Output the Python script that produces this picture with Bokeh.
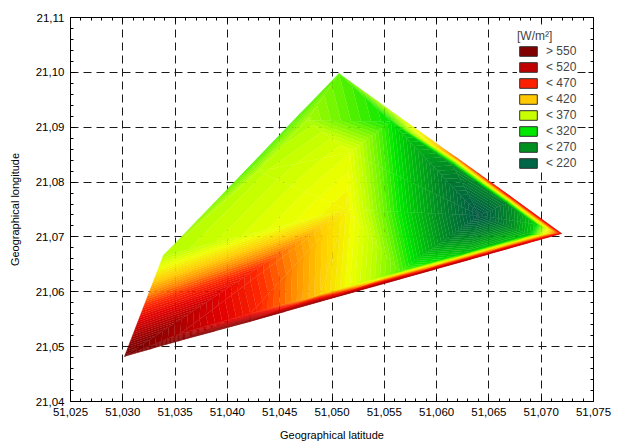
import numpy as np
from bokeh.plotting import figure
from bokeh.models import FixedTicker, LinearAxis, Legend, LegendItem, ColumnDataSource
from bokeh.embed import file_html
from bokeh.resources import INLINE

# ---- measurement points (latitude, longitude, irradiance W/m2) ----
lat = [51.03015, 51.03387, 51.05067, 51.07195, 51.03550, 51.04218, 51.04886, 51.05649,
       51.06317, 51.06889, 51.03550, 51.04218, 51.04886, 51.05649, 51.06317, 51.06889,
       51.05134, 51.05172, 51.06412, 51.05611, 51.06202, 51.06708, 51.05563, 51.06155,
       51.06660, 51.06956, 51.04227, 51.04695, 51.04294, 51.04761]
lon = [21.04821, 21.06662, 21.09979, 21.07063, 21.05112, 21.05459, 21.05823, 21.06231,
       21.06589, 21.06899, 21.05240, 21.05604, 21.05951, 21.06370, 21.06735, 21.07044,
       21.07500, 21.08539, 21.07391, 21.09232, 21.08430, 21.07737, 21.09104, 21.08302,
       21.07610, 21.07227, 21.08320, 21.09250, 21.08193, 21.09122]
irr = [575, 365, 340, 495, 565, 555, 545, 535,
       525, 510, 530, 480, 420, 340, 300, 300,
       400, 385, 205, 370, 455, 495, 320, 265,
       255, 310, 338, 338, 368, 362]

# triangulation of the measurement points (index triples)
triangles = [(0, 4, 10), (4, 5, 11), (4, 11, 10), (5, 6, 12), (5, 12, 11), (6, 7, 13), (6, 13, 12),
             (7, 8, 14), (7, 14, 13), (8, 9, 15), (8, 15, 14), (9, 3, 15), (15, 3, 25), (3, 21, 25),
             (21, 20, 23), (21, 23, 24), (21, 24, 25), (20, 19, 22), (20, 22, 23), (19, 2, 22),
             (2, 27, 29), (2, 29, 22), (27, 26, 28), (27, 28, 29), (26, 1, 28), (1, 28, 16),
             (28, 29, 17), (28, 17, 16), (29, 22, 17), (17, 22, 18), (22, 23, 18), (23, 24, 18),
             (24, 25, 18), (25, 15, 18), (15, 14, 18), (14, 13, 18), (13, 16, 18), (16, 17, 18),
             (0, 1, 16), (0, 16, 10), (10, 16, 11), (11, 16, 12), (12, 16, 13)]

contour_levels = list(range(200, 590, 5))

x_ticks = [51.025, 51.030, 51.035, 51.040, 51.045, 51.050, 51.055, 51.060, 51.065, 51.070, 51.075]
x_tick_labels = ["51,025", "51,030", "51,035", "51,040", "51,045", "51,050",
                 "51,055", "51,060", "51,065", "51,070", "51,075"]
y_ticks = [21.04, 21.05, 21.06, 21.07, 21.08, 21.09, 21.10, 21.11]
y_tick_labels = ["21,04", "21,05", "21,06", "21,07", "21,08", "21,09", "21,10", "21,11"]

legend_labels = ["> 550", "< 520", "< 470", "< 420", "< 370", "< 320", "< 270", "< 220"]
legend_colors = ["#800000", "#C00000", "#FF2000", "#FFC800", "#C8FF00", "#00E800", "#009020", "#006646"]

# ---- colour scale (style) ----
cm_v = [200, 220, 250, 270, 300, 320, 345, 370, 392, 420, 445, 470, 500, 520, 550, 580]
cm_c = [(0, 80, 62), (0, 100, 64), (0, 125, 45), (0, 148, 32), (0, 195, 10), (0, 232, 0),
        (110, 245, 0), (195, 255, 0), (240, 255, 0), (255, 205, 0), (255, 135, 0), (255, 40, 0),
        (225, 0, 0), (192, 0, 0), (140, 0, 0), (112, 0, 0)]


def colour(v):
    r = np.interp(v, cm_v, [c[0] for c in cm_c])
    g = np.interp(v, cm_v, [c[1] for c in cm_c])
    b = np.interp(v, cm_v, [c[2] for c in cm_c])
    return "#%02x%02x%02x" % (int(round(r)), int(round(g)), int(round(b)))


def clip(poly, level, above):
    out = []
    n = len(poly)
    for i in range(n):
        P = poly[i]
        Q = poly[(i + 1) % n]
        pin = P[2] >= level if above else P[2] <= level
        qin = Q[2] >= level if above else Q[2] <= level
        if pin:
            out.append(P)
        if pin != qin:
            t = (level - P[2]) / (Q[2] - P[2])
            out.append((P[0] + t * (Q[0] - P[0]), P[1] + t * (Q[1] - P[1]), level))
    return out


xs, ys, cols = [], [], []
for tri in triangles:
    base = [(lat[i], lon[i], float(irr[i])) for i in tri]
    vmin = min(b[2] for b in base)
    vmax = max(b[2] for b in base)
    for lo, hi in zip(contour_levels[:-1], contour_levels[1:]):
        if hi <= vmin or lo >= vmax:
            continue
        poly = clip(base, lo, True)
        if len(poly) < 3:
            continue
        poly = clip(poly, hi, False)
        if len(poly) < 3:
            continue
        xs.append([q[0] for q in poly])
        ys.append([q[1] for q in poly])
        cols.append(colour((lo + hi) / 2.0))

FONT = "Liberation Sans"

p = figure(width=617, height=443, x_range=(51.025, 51.075), y_range=(21.04, 21.11),
           output_backend="svg", toolbar_location=None,
           min_border_left=70, min_border_right=24, min_border_top=17, min_border_bottom=42)
p.background_fill_color = "white"
p.border_fill_color = "white"
p.outline_line_color = "black"

src = ColumnDataSource(dict(xs=xs, ys=ys, color=cols))
p.patches("xs", "ys", fill_color="color", line_color="color", line_width=0.4, line_alpha=0.6,
          source=src)

x_minor = [round(x_ticks[0] + 0.001 * k, 4) for k in range(51)]
y_minor = [round(y_ticks[0] + 0.002 * k, 4) for k in range(36)]
xt = FixedTicker(ticks=x_ticks, minor_ticks=x_minor)
yt = FixedTicker(ticks=y_ticks, minor_ticks=y_minor)

p.xaxis.ticker = xt
p.yaxis.ticker = yt
p.xaxis.major_label_overrides = dict(zip(x_ticks, x_tick_labels))
p.yaxis.major_label_overrides = dict(zip(y_ticks, y_tick_labels))
p.xaxis.axis_label = "Geographical latitude"
p.yaxis.axis_label = "Geographical longitude"

for ax in (p.xaxis[0], p.yaxis[0]):
    ax.major_label_text_font = FONT
    ax.major_label_text_font_size = "11.5px"
    ax.major_label_text_color = "black"
    ax.axis_label_text_font = FONT
    ax.axis_label_text_font_size = "11px"
    ax.axis_label_text_font_style = "normal"
    ax.axis_label_text_color = "black"
    ax.major_tick_in = 5
    ax.major_tick_out = 0
    ax.minor_tick_in = 3
    ax.minor_tick_out = 0
    ax.axis_line_color = "black"
    ax.major_tick_line_color = "black"
    ax.minor_tick_line_color = "black"
p.xaxis.major_label_standoff = 6
p.xaxis.axis_label_standoff = 10
p.yaxis.major_label_standoff = 6
p.yaxis.axis_label_standoff = 12

# tick marks on the top and right frame edges (no labels)
for loc, major, minor, fixed in (("above", x_ticks, x_minor, y_ticks[-1]),
                                 ("right", y_ticks, y_minor, x_ticks[-1])):
    for tks, ln in ((major, 5), (minor, 3)):
        ax = LinearAxis(ticker=FixedTicker(ticks=[], minor_ticks=tks), fixed_location=fixed,
                        major_label_standoff=0, axis_label_standoff=0,
                        major_tick_in=0, major_tick_out=0, minor_tick_in=ln, minor_tick_out=0,
                        axis_line_color="black", minor_tick_line_color="black")
        p.add_layout(ax, loc)

p.grid.grid_line_color = "#1a1a1a"
p.grid.grid_line_dash = "8 5"
p.grid.grid_line_width = 1

items = []
for lab, col in zip(legend_labels, legend_colors):
    r = p.quad(left=[np.nan], right=[np.nan], top=[np.nan], bottom=[np.nan],
               fill_color=col, line_color="#303030")
    items.append(LegendItem(label=lab, renderers=[r]))
legend = Legend(items=items, location=(447, 231), margin=0, padding=5,
                title="[W/m²]", title_text_font=FONT, title_text_font_size="12px",
                title_text_font_style="normal", title_standoff=1,
                label_text_font=FONT, label_text_font_size="12px",
                glyph_width=22, glyph_height=12, label_height=12, label_standoff=7,
                spacing=2, background_fill_color="white", background_fill_alpha=1.0,
                border_line_color=None)
p.add_layout(legend)

open("out.html", "w").write(file_html(p, INLINE))
